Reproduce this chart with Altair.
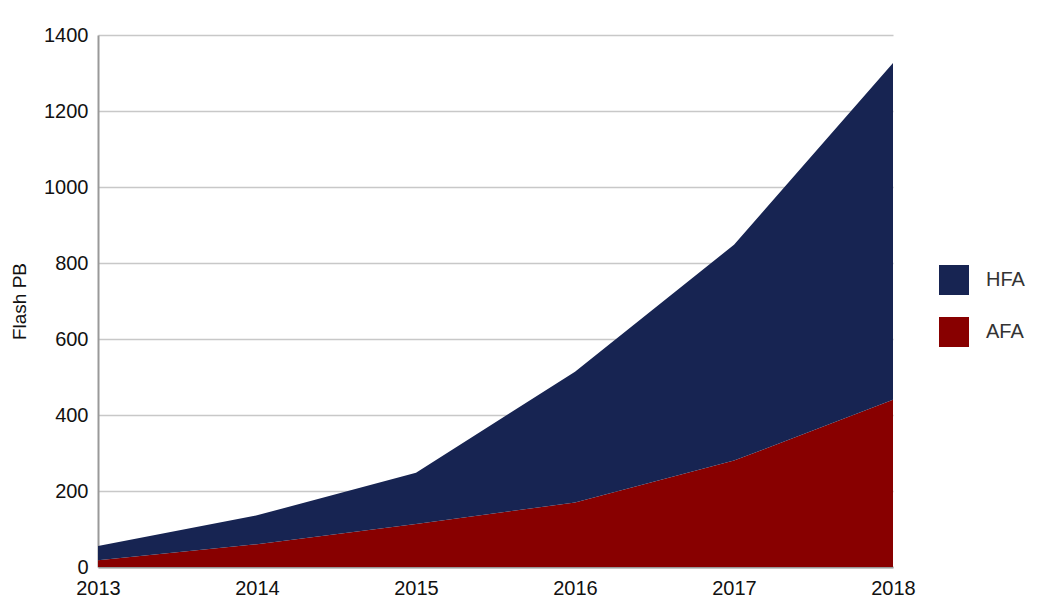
import altair as alt
import pandas as pd

years = ["2013", "2014", "2015", "2016", "2017", "2018"]
# flash capacity in PB
afa = [18, 60, 113, 170, 280, 440]
hfa = [37, 76, 135, 344, 568, 886]

rows = []
for i, yr in enumerate(years):
    rows.append({"year": yr, "type": "AFA", "pb": afa[i], "order": 0})
    rows.append({"year": yr, "type": "HFA", "pb": hfa[i], "order": 1})
data = pd.DataFrame(rows)

chart = alt.Chart(data).mark_area(opacity=1).encode(
    x=alt.X("year:O", scale=alt.Scale(padding=0),
            axis=alt.Axis(title=None, labelAngle=0, grid=False, ticks=False,
                          labelPadding=11, domainColor="#999999", domainWidth=2)),
    y=alt.Y("pb:Q", stack="zero", scale=alt.Scale(domain=[0, 1400]),
            axis=alt.Axis(title="Flash PB", values=list(range(0, 1401, 200)), format="d",
                          ticks=False, labelPadding=10, titlePadding=14,
                          domainColor="#999999", domainWidth=2,
                          gridColor="#c8c8c8", gridWidth=1.5)),
    color=alt.Color("type:N",
                    scale=alt.Scale(domain=["HFA", "AFA"], range=["#172452", "#880000"]),
                    legend=alt.Legend(title=None, orient="none", legendX=841, legendY=230,
                                      symbolType="square", symbolSize=900,
                                      symbolStrokeWidth=0, labelFontSize=20,
                                      labelColor="#333333", labelOffset=17,
                                      rowPadding=22, padding=0)),
    order=alt.Order("order:Q"),
).properties(
    width=795,
    height=532,
    autosize=alt.AutoSizeParams(type="none"),
    padding={"left": 90, "top": 27, "right": 134, "bottom": 30},
).configure_axis(
    labelFont="Liberation Sans",
    titleFont="Liberation Sans",
    labelFontSize=20,
    titleFontSize=19,
    labelColor="#111111",
    titleColor="#111111",
    titleFontWeight="normal",
).configure_legend(
    labelFont="Liberation Sans",
).configure_view(
    strokeWidth=0
)

chart.save("out.html", embed_options={"renderer": "svg", "actions": False})
